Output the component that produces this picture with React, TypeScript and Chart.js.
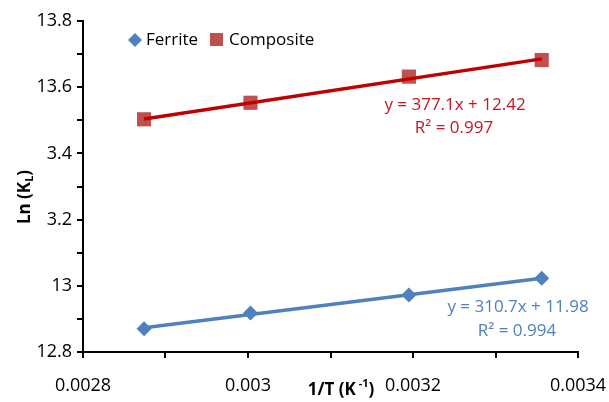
import React, { useEffect, useRef } from 'react';
import { Chart, registerables } from 'chart.js';

Chart.register(...registerables);

// ---- data ----
const invT = [0.002874, 0.003003, 0.003195, 0.003356];
const ferrite = [12.87, 12.918, 12.972, 13.023];
const composite = [13.503, 13.553, 13.632, 13.682];
const ferriteFit = [310.7, 11.98]; // slope, intercept
const compositeFit = [377.1, 12.42];
const ferriteEq = ['y = 310.7x + 11.98', 'R² = 0.994'];
const compositeEq = ['y = 377.1x + 12.42', 'R² = 0.997'];
const seriesNames = ['Ferrite', 'Composite'];
const xRange = [0.0028, 0.0034];
const yRange = [12.8, 13.8];

const FONT = "'Open Sans', sans-serif";
const TICK_SIZE = 18;
const BLUE = '#4F81BD';
const RED_MARK = '#C0504D';
const RED_LINE = '#C00000';
const RED_TEXT = '#C8141E';

function fitLine(fit: number[]) {
  const xs = [invT[0], invT[invT.length - 1]];
  return xs.map((x) => ({ x, y: fit[0] * x + fit[1] }));
}

const overlay = {
  id: 'overlay',
  afterDraw(chart: any) {
    const ctx = chart.ctx;
    ctx.save();
    // white box behind y-axis title (covers part of labels like Excel's title box)
    ctx.font = `${TICK_SIZE}px ${FONT}`;
    const w3 = ctx.measureText('3.4').width;
    ctx.fillStyle = '#ffffff';
    ctx.fillRect(10, 140, 72 - w3 - 1 - 10, 92);

    // y title
    ctx.fillStyle = '#000';
    ctx.translate(25, 197);
    ctx.rotate(-Math.PI / 2);
    ctx.textBaseline = 'middle';
    ctx.textAlign = 'left';
    const big = `bold 17px ${FONT}`;
    const small = `bold 11px ${FONT}`;
    ctx.font = big;
    const a = 'Ln (K';
    const c = ')';
    const wa = ctx.measureText(a).width;
    const wc = ctx.measureText(c).width;
    ctx.font = small;
    const wb = ctx.measureText('L').width;
    let x0 = -(wa + wb + wc) / 2;
    ctx.font = big;
    ctx.fillText(a, x0, 0);
    ctx.font = small;
    ctx.fillText('L', x0 + wa, 5);
    ctx.font = big;
    ctx.fillText(c, x0 + wa + wb, 0);
    ctx.setTransform(1, 0, 0, 1, 0, 0);

    // x title
    ctx.font = big;
    const xa = '1/T (K';
    const wxa = ctx.measureText(xa).width;
    ctx.font = small;
    const xb = ' -1';
    const wxb = ctx.measureText(xb).width;
    ctx.font = big;
    const wxc = ctx.measureText(')').width;
    let xs = 341 - (wxa + wxb + wxc) / 2;
    const yb = 390;
    ctx.fillText(xa, xs, yb);
    ctx.font = small;
    ctx.fillText(xb, xs + wxa, yb - 6);
    ctx.font = big;
    ctx.fillText(')', xs + wxa + wxb, yb);

    // legend
    ctx.font = `17px ${FONT}`;
    ctx.fillStyle = BLUE;
    ctx.beginPath();
    ctx.moveTo(135, 33);
    ctx.lineTo(142, 40);
    ctx.lineTo(135, 47);
    ctx.lineTo(128, 40);
    ctx.closePath();
    ctx.fill();
    ctx.fillStyle = '#000';
    ctx.fillText(seriesNames[0], 146, 40);
    ctx.fillStyle = RED_MARK;
    ctx.fillRect(210, 33, 13, 13);
    ctx.fillStyle = '#000';
    ctx.fillText(seriesNames[1], 229, 40);

    // equations
    ctx.textAlign = 'center';
    ctx.fillStyle = RED_TEXT;
    ctx.fillText(compositeEq[0], 455, 105);
    ctx.fillText(compositeEq[1], 454, 128);
    ctx.fillStyle = BLUE;
    ctx.fillText(ferriteEq[0], 518, 307);
    ctx.fillText(ferriteEq[1], 517, 331);
    ctx.restore();
  },
};

export default function App() {
  const ref = useRef<HTMLCanvasElement | null>(null);
  useEffect(() => {
    document.body.style.margin = '0';
    const canvas = ref.current!;
    const chart = new Chart(canvas, {
      type: 'scatter',
      data: {
        datasets: [
          {
            label: 'Composite fit',
            data: fitLine(compositeFit),
            showLine: true,
            borderColor: RED_LINE,
            borderWidth: 3.5,
            pointRadius: 0,
            order: 0,
          },
          {
            label: 'Ferrite fit',
            data: fitLine(ferriteFit),
            showLine: true,
            borderColor: BLUE,
            borderWidth: 3.5,
            pointRadius: 0,
            order: 0,
          },
          {
            label: seriesNames[0],
            data: invT.map((x, i) => ({ x, y: ferrite[i] })),
            pointStyle: 'rectRot',
            pointRadius: 7.5,
            backgroundColor: BLUE,
            borderColor: BLUE,
            borderWidth: 0,
            order: 1,
          },
          {
            label: seriesNames[1],
            data: invT.map((x, i) => ({ x, y: composite[i] })),
            pointStyle: 'rect',
            pointRadius: 10,
            backgroundColor: RED_MARK,
            borderColor: RED_MARK,
            borderWidth: 0,
            order: 1,
          },
        ],
      },
      options: {
        animation: false,
        responsive: false,
        devicePixelRatio: 1,
        layout: { padding: { top: 21, right: 31, left: 0, bottom: 0 } },
        plugins: {
          legend: { display: false },
          tooltip: { enabled: false },
          title: { display: false },
        },
        scales: {
          x: {
            type: 'linear',
            min: xRange[0],
            max: xRange[1],
            afterFit: (s: any) => {
              s.height = 50;
              s.paddingLeft = 0;
              s.paddingRight = 0;
            },
            border: { display: true, color: '#000', width: 2 },
            grid: {
              drawOnChartArea: false,
              drawTicks: true,
              tickLength: 6,
              color: '#000',
              lineWidth: 2,
            },
            ticks: {
              stepSize: 0.0001,
              autoSkip: false,
              maxRotation: 0,
              padding: 17,
              color: '#000',
              font: { family: FONT, size: TICK_SIZE },
              callback: (v: any) => {
                const k = Math.round(Number(v) * 10000);
                return k % 2 === 0 ? String(k / 10000) : '';
              },
            },
          },
          y: {
            type: 'linear',
            min: yRange[0],
            max: yRange[1],
            afterFit: (s: any) => {
              s.width = 83;
              s.paddingTop = 0;
              s.paddingBottom = 0;
            },
            border: { display: true, color: '#000', width: 2 },
            grid: {
              drawOnChartArea: false,
              drawTicks: true,
              tickLength: 6,
              color: '#000',
              lineWidth: 2,
            },
            ticks: {
              stepSize: 0.1,
              autoSkip: false,
              padding: 5,
              color: '#000',
              font: { family: FONT, size: TICK_SIZE },
              callback: (v: any) => {
                const k = Math.round(Number(v) * 10);
                return k % 2 === 0 ? String(k / 10) : '';
              },
            },
          },
        },
      },
      plugins: [overlay],
    });
    return () => chart.destroy();
  }, []);
  return (
    <div style={{ width: 609, height: 402, position: 'relative' }}>
      <canvas ref={ref} width={609} height={402} />
    </div>
  );
}
